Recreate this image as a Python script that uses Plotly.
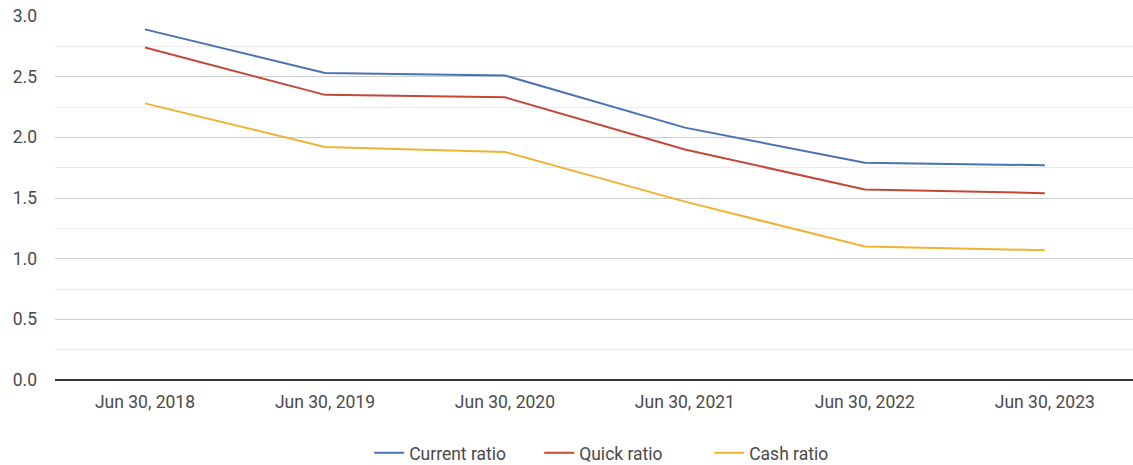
import plotly.graph_objects as go

categories = ["Jun 30, 2018", "Jun 30, 2019", "Jun 30, 2020", "Jun 30, 2021", "Jun 30, 2022", "Jun 30, 2023"]
current_ratio = [2.89, 2.53, 2.51, 2.08, 1.79, 1.77]
quick_ratio = [2.74, 2.35, 2.33, 1.90, 1.57, 1.54]
cash_ratio = [2.28, 1.92, 1.88, 1.47, 1.10, 1.07]

series = [
    ("Current ratio", current_ratio, "#4a70b5"),
    ("Quick ratio", quick_ratio, "#c4473a"),
    ("Cash ratio", cash_ratio, "#f0b232"),
]

fig = go.Figure()
for name, vals, color in series:
    fig.add_trace(go.Scatter(x=categories, y=vals, name=name, mode="lines",
                             line=dict(color=color, width=2)))

font_family = "Roboto, Arial, sans-serif"
txt = "#4a4a4a"
fs = 17.5
fig.update_layout(
    width=1133, height=465,
    margin=dict(l=55, r=0, t=16, b=85, autoexpand=False),
    paper_bgcolor="white", plot_bgcolor="white",
    font=dict(family=font_family, size=fs, color=txt),
    showlegend=True,
    legend=dict(orientation="h", x=0.528, xanchor="center", y=-0.2, yanchor="middle",
                font=dict(size=fs, color=txt), tracegroupgap=0, entrywidth=125),
    xaxis=dict(type="category", range=[-0.5, 5.49], showgrid=False, showline=False, zeroline=False,
               automargin=False, ticks="", ticklabelstandoff=9, tickfont=dict(size=fs, color=txt)),
    yaxis=dict(range=[0, 3.0], dtick=0.5, tickformat=".1f", showgrid=True, gridcolor="#cccccc",
               gridwidth=1, zeroline=True, zerolinecolor="#333333", zerolinewidth=1.5,
               automargin=False, showline=False, ticks="", ticklabelstandoff=17,
               minor=dict(dtick=0.25, showgrid=True, gridcolor="#ebebeb", gridwidth=1),
               tickfont=dict(size=fs, color=txt)),
)

fig.write_html("out.html", config={"displayModeBar": False},
               post_script="document.body.style.margin='0';")
